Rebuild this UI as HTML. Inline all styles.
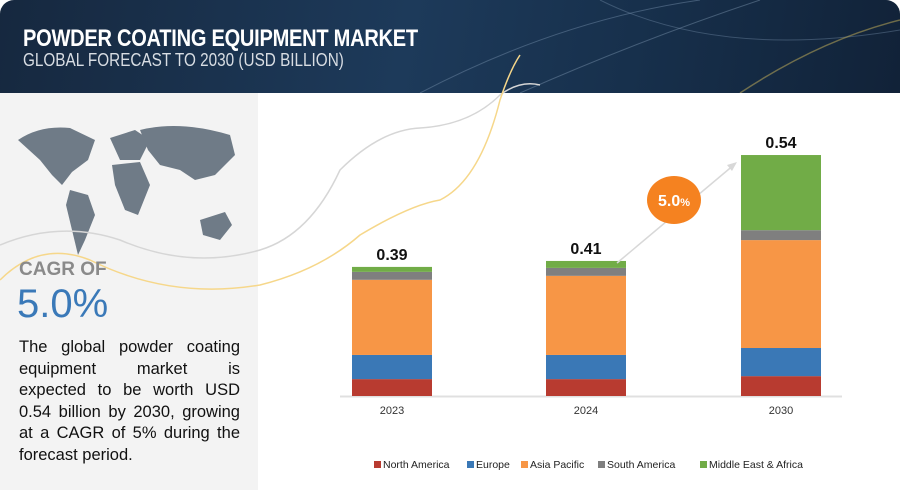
<!DOCTYPE html>
<html><head><meta charset="utf-8"><style>
body{margin:0;width:900px;height:490px;overflow:hidden;background:#fff;font-family:"Liberation Sans",sans-serif;position:relative}
#hdr{position:absolute;left:0;top:0;width:900px;height:93px;background:linear-gradient(100deg,#16283f 0%,#1d3a5a 45%,#17304c 70%,#112238 100%);border-radius:14px 14px 0 0;overflow:hidden}
#t1{position:absolute;left:23px;top:25px;color:#fff;font-size:24px;font-weight:bold;transform:scaleX(.835);transform-origin:left;letter-spacing:-.3px;white-space:nowrap}
#t2{position:absolute;left:23px;top:50px;color:#d8dde3;font-size:18px;transform:scaleX(.85);transform-origin:left;white-space:nowrap}
#left{position:absolute;left:0;top:93px;width:258px;height:397px;background:#f3f3f3}
#cagrl{position:absolute;left:19px;top:259px;font-size:19px;font-weight:bold;color:#8a8a8a}
#cagr{position:absolute;left:17px;top:282px;font-size:40px;color:#3a79b8}
#desc{position:absolute;left:19px;top:337px;width:221px;font-size:16.5px;line-height:21.5px;color:#111}
#desc span{display:block;text-align:justify;text-align-last:justify;white-space:nowrap}
#desc span.last{text-align-last:left}
</style></head><body>
<div id="hdr">
<svg width="900" height="93" style="position:absolute;left:0;top:0">
<path d="M420 93 Q560 20 700 0" stroke="#6d87a3" stroke-width="1" fill="none" opacity=".5"/>
<path d="M520 93 Q640 40 760 0" stroke="#8aa2bb" stroke-width="1" fill="none" opacity=".4"/>
<path d="M600 0 Q720 60 900 30" stroke="#7892ad" stroke-width="1" fill="none" opacity=".4"/>
<path d="M740 93 Q820 40 900 20" stroke="#c9b35a" stroke-width="1.5" fill="none" opacity=".5"/>
</svg>
<div id="t1">POWDER COATING EQUIPMENT MARKET</div>
<div id="t2">GLOBAL FORECAST TO 2030 (USD BILLION)</div>
</div>
<div id="left"></div>
<svg width="900" height="490" style="position:absolute;left:0;top:0">
<g fill="#6f7b87">
<path d="M18 140 Q40 125 70 128 L95 140 L88 160 L72 172 L62 185 L52 175 L40 160 Z"/>
<path d="M70 190 L88 195 L95 215 L85 240 L78 255 L72 230 L66 205 Z"/>
<path d="M110 138 L135 130 L150 140 L140 160 L120 160 Z"/>
<path d="M112 165 L140 162 L150 185 L138 215 L125 210 L115 185 Z"/>
<path d="M140 130 Q180 120 230 135 L235 155 L215 175 L195 180 L180 170 L160 165 L148 150 Z"/>
<path d="M200 220 L225 212 L232 225 L220 240 L203 235 Z"/>
</g>
<path d="M0 245 Q60 220 120 240 Q190 270 260 250 Q310 235 340 170 Q380 130 420 128 Q470 125 500 95 Q520 80 540 85" stroke="#d6d6d6" stroke-width="1.5" fill="none"/>
<path d="M0 280 Q40 240 90 260 Q170 300 260 285 Q320 270 360 235 Q410 205 440 200 Q480 180 500 100 Q510 70 520 55" stroke="#f6d78a" stroke-width="1.5" fill="none"/>
</svg>
<div id="cagrl">CAGR OF</div>
<div id="cagr">5.0%</div>
<div id="desc"><span>The global powder coating</span><span>equipment market is</span><span>expected to be worth USD</span><span>0.54 billion by 2030, growing</span><span>at a CAGR of 5% during the</span><span class="last">forecast period.</span></div>
<svg id="chart" width="900" height="490" style="position:absolute;left:0;top:0"></svg>
<script>
const years=["2023","2024","2030"];
const totals=["0.39","0.41","0.54"];
const seriesNames=["North America","Europe","Asia Pacific","South America","Middle East & Africa"];
const northAmerica=[0.051,0.051,0.060];
const europe=[0.073,0.073,0.085];
const asiaPacific=[0.227,0.239,0.326];
const southAmerica=[0.024,0.024,0.030];
const mea=[0.015,0.021,0.227];
const colors=["#b83b30","#3a78b6","#f79646","#7f7f7f","#71ac47"];
const series=[northAmerica,europe,asiaPacific,southAmerica,mea];
const svg=document.getElementById('chart');const NS='http://www.w3.org/2000/svg';
const base=396,pxPerUnit=331,barW=80;
function xPos(i){return [352,546,741][i];}
function yScale(v){return v*pxPerUnit;}
function mk(t,a){const e=document.createElementNS(NS,t);for(const k in a)e.setAttribute(k,a[k]);svg.appendChild(e);return e;}
let ax=mk('line',{x1:340,x2:842,y1:base+0.5,y2:base+0.5,stroke:'#e0e0e0','stroke-width':2});


years.forEach((y,i)=>{
 let acc=0;
 series.forEach((s,j)=>{
  const h=yScale(s[i]);
  const r=mk('rect',{x:xPos(i),y:base-acc-h,width:barW,height:h,fill:colors[j]});
  
  
  acc+=h;
 });
 const v=mk('text',{x:xPos(i)+barW/2,y:base-acc-7,'text-anchor':'middle','font-size':16,'font-weight':'bold',fill:'#111'});
 v.textContent=totals[i];
 
 
 const t=mk('text',{x:xPos(i)+barW/2,y:414,'text-anchor':'middle','font-size':11,fill:'#333'});
 t.textContent=y;
 
 
});
const arr=mk('line',{x1:617,y1:263,x2:735,y2:164,stroke:'#d8d8d8','stroke-width':1.5});


const ah=mk('polygon',{points:'737,162 727,165 732,171',fill:'#d8d8d8'});


const c=mk('ellipse',{cx:674,cy:200,rx:27,ry:24,fill:'#f58220'});


const ct=mk('text',{x:674,y:206,'text-anchor':'middle','font-size':16,'font-weight':'bold',fill:'#fff'});
ct.innerHTML='5.0<tspan font-size="11">%</tspan>';


const lx=[374,467,521,598,700];
seriesNames.forEach((n,j)=>{
 const r=mk('rect',{x:lx[j],y:461,width:7,height:7,fill:colors[j]});
 
 
 const t=mk('text',{x:lx[j]+9,y:468,'font-size':10.5,fill:'#222'});
 t.textContent=n;
 
 
});
</script>
</body></html>
